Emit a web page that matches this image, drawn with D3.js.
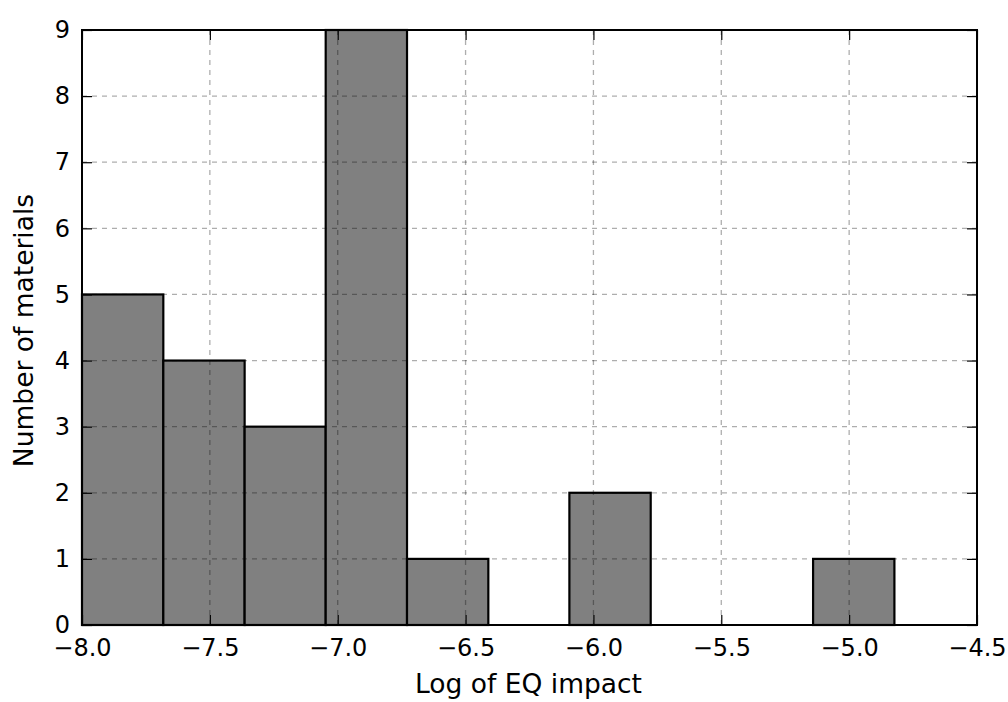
<!DOCTYPE html>
<html lang="en">
    <head>
        <meta charset="utf-8">
        <title>Histograma EQ</title>
        <script src="https://cdn.jsdelivr.net/npm/d3@7"></script>
        <style type="text/css">
            body { margin: 0; background: #fff; }
            text { font-family: "DejaVu Sans", sans-serif; fill: #000; }
        </style>
    </head>
    <body>
        <svg width="1008" height="702"></svg>
        <script>
            // Bordes de los bins y conteos
            var binEdges = [-8.0, -7.682, -7.364, -7.047, -6.729, -6.411, -6.094, -5.776, -5.458, -5.141, -4.823];
            var counts = [5, 4, 3, 9, 1, 0, 2, 0, 0, 1];
            var xTicks = [-8.0, -7.5, -7.0, -6.5, -6.0, -5.5, -5.0, -4.5];
            var yTicks = [0, 1, 2, 3, 4, 5, 6, 7, 8, 9];
            var xLabel = "Log of EQ impact";
            var yLabel = "Number of materials";

            var svg = d3.select("svg"),
                margin = {top: 30, right: 31, bottom: 77, left: 82},
                width = +svg.attr("width") - margin.left - margin.right,
                height = +svg.attr("height") - margin.top - margin.bottom,
                g = svg.append("g").attr("transform", "translate(" + margin.left + "," + margin.top + ")");

            var x = d3.scaleLinear().domain([-8.0, -4.5]).range([0, width]);
            var y = d3.scaleLinear().domain([0, 9]).range([height, 0]);

            var bins = counts.map(function(c, i) { return {x0: binEdges[i], x1: binEdges[i + 1], n: c}; })
                .filter(function(d) { return d.n > 0; });

            // Barras
            g.append("g")
                .selectAll("rect")
                .data(bins)
                .enter().append("rect")
                .attr("x", function(d) { return x(d.x0); })
                .attr("y", function(d) { return y(d.n); })
                .attr("width", function(d) { return x(d.x1) - x(d.x0); })
                .attr("height", function(d) { return y(0) - y(d.n); })
                .attr("fill", "#808080")
                .attr("stroke", "#000")
                .attr("stroke-width", 2.2);

            // Grilla (encima de las barras)
            var grid = g.append("g")
                .attr("stroke", "#000")
                .attr("stroke-opacity", 0.32)
                .attr("stroke-width", 1.3)
                .attr("stroke-dasharray", "5,5");
            grid.selectAll(".gx")
                .data(xTicks.slice(1, -1))
                .enter().append("line")
                .attr("x1", function(d) { return x(d); })
                .attr("x2", function(d) { return x(d); })
                .attr("y1", 0).attr("y2", height);
            grid.selectAll(".gy")
                .data(yTicks.slice(1, -1))
                .enter().append("line")
                .attr("y1", function(d) { return y(d); })
                .attr("y2", function(d) { return y(d); })
                .attr("x1", 0).attr("x2", width);

            // Ejes con ticks hacia adentro en los cuatro lados
            function styleAxis(sel) {
                sel.select(".domain").remove();
                sel.selectAll(".tick line").attr("stroke", "#000").attr("stroke-width", 1.2);
                sel.selectAll(".tick text").attr("font-size", 24).attr("font-family", "DejaVu Sans");
            }
            var fmtX = function(d) { return d3.format(".1f")(d).replace("-", "\u2212"); };

            g.append("g")
                .attr("transform", "translate(0," + height + ")")
                .call(d3.axisBottom(x).tickValues(xTicks).tickFormat(fmtX).tickSizeInner(-10).tickSizeOuter(0).tickPadding(14))
                .call(styleAxis);
            g.append("g")
                .call(d3.axisTop(x).tickValues(xTicks).tickFormat("").tickSizeInner(-10).tickSizeOuter(0))
                .call(styleAxis);
            g.append("g")
                .call(d3.axisLeft(y).tickValues(yTicks).tickFormat(d3.format("d")).tickSizeInner(-10).tickSizeOuter(0).tickPadding(12))
                .call(styleAxis);
            g.append("g")
                .attr("transform", "translate(" + width + ",0)")
                .call(d3.axisRight(y).tickValues(yTicks).tickFormat("").tickSizeInner(-10).tickSizeOuter(0))
                .call(styleAxis);

            // Marco
            g.append("rect")
                .attr("width", width)
                .attr("height", height)
                .attr("fill", "none")
                .attr("stroke", "#000")
                .attr("stroke-width", 2);

            // Etiquetas de ejes
            svg.append("text")
                .attr("x", margin.left + width / 2 - 1)
                .attr("y", 693)
                .attr("text-anchor", "middle")
                .attr("font-size", 26.5)
                .text(xLabel);
            svg.append("text")
                .attr("transform", "translate(33," + (margin.top + height / 2 + 3) + ") rotate(-90)")
                .attr("text-anchor", "middle")
                .attr("font-size", 26.5)
                .text(yLabel);
        </script>
    </body>
</html>
